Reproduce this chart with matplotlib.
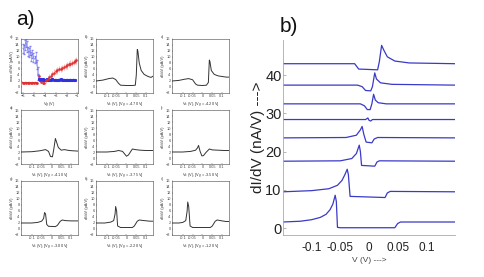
import matplotlib
matplotlib.use("Agg")
import matplotlib.pyplot as plt

plt.rcParams['font.family'] = ['Liberation Sans', 'DejaVu Sans']

# ---------------- data: panel a) sub-plot a (max dI/dV vs Vg) ----------------
blue_hi_vg = [-6.05, -5.95, -5.85, -5.75, -5.65, -5.55, -5.45, -5.35, -5.25,
              -5.15, -5.05, -4.95, -4.85, -4.75, -4.68, -4.62]
blue_hi_val = [13.0, 12.5, 14.0, 15.0, 13.5, 12.0, 11.5, 12.2, 10.2,
               11.0, 10.0, 9.2, 10.0, 7.5, 5.5, 3.2]
blue_hi_err = [1.5, 1.6, 1.8, 1.5, 1.7, 1.5, 1.4, 1.6, 1.5,
               1.4, 1.5, 1.3, 1.6, 1.4, 1.2, 0.8]
blue_lo_vg = [-4.55, -4.45, -4.35, -4.25, -4.15, -4.05, -3.95, -3.85, -3.75,
              -3.6, -3.45, -3.3, -3.15, -3.0, -2.85, -2.7, -2.55, -2.4, -2.25,
              -2.1, -1.95, -1.8, -1.65, -1.5, -1.35, -1.2]
blue_lo_val = [2.6, 2.5, 2.7, 2.4, 2.6, 2.5, 2.4, 2.6, 2.5,
               2.4, 2.5, 2.6, 2.4, 2.5, 2.4, 2.5, 2.6, 2.4, 2.5,
               2.4, 2.5, 2.4, 2.5, 2.4, 2.5, 2.4]
red_vg = [-6.05, -5.9, -5.75, -5.6, -5.45, -5.3, -5.15, -5.0, -4.85, -4.7,
          -4.5, -4.35, -4.2, -4.05, -3.9, -3.75, -3.6, -3.45, -3.3, -3.15,
          -3.0, -2.85, -2.7, -2.55, -2.4, -2.25, -2.1, -1.95, -1.8, -1.65,
          -1.5, -1.35, -1.2, -1.1]
red_val = [1.5, 1.4, 1.5, 1.4, 1.5, 1.4, 1.5, 1.4, 1.5, 1.4,
           3.6, 1.6, 1.3, 1.5, 2.2, 2.8, 3.3, 3.8, 4.5, 4.8,
           5.2, 5.6, 5.9, 6.0, 6.5, 6.7, 7.0, 7.2, 7.6, 7.8,
           8.0, 8.3, 8.6, 8.9]
red_err = [0.3, 0.3, 0.3, 0.3, 0.3, 0.3, 0.3, 0.3, 0.3, 0.3,
           0.8, 0.4, 0.4, 0.5, 0.7, 0.8, 0.9, 1.0, 1.0, 1.1,
           1.0, 1.1, 1.0, 1.1, 1.0, 1.1, 1.0, 1.1, 1.0, 1.1,
           1.0, 1.1, 1.0, 1.1]

# ---------------- data: panels b)-i) (dI/dV vs Vs) ----------------
small_letters = ["b)", "c)", "d)", "e)", "f)", "g)", "h)", "i)"]
small_vg_labels = ["-4.70", "-4.20", "-4.10", "-3.75", "-3.50", "-3.00", "-2.20", "-1.20"]
small_v = [
    [-0.155, -0.12, -0.09, -0.07, -0.055, -0.04, -0.03, 0.0, 0.03, 0.045, 0.05, 0.055, 0.058, 0.065, 0.075, 0.09, 0.11, 0.125, 0.135],
    [-0.155, -0.12, -0.09, -0.07, -0.05, -0.035, -0.025, 0.0, 0.02, 0.03, 0.035, 0.038, 0.045, 0.06, 0.08, 0.1, 0.12, 0.135],
    [-0.155, -0.1, -0.06, -0.03, -0.015, -0.005, 0.005, 0.012, 0.02, 0.025, 0.035, 0.05, 0.065, 0.09, 0.11, 0.135],
    [-0.155, -0.1, -0.06, -0.04, -0.02, -0.005, 0.0, 0.01, 0.02, 0.03, 0.045, 0.07, 0.1, 0.135],
    [-0.155, -0.1, -0.06, -0.035, -0.025, -0.02, -0.012, -0.003, 0.005, 0.02, 0.035, 0.05, 0.08, 0.11, 0.135],
    [-0.155, -0.1, -0.07, -0.05, -0.04, -0.035, -0.03, -0.024, -0.015, 0.02, 0.03, 0.045, 0.055, 0.07, 0.1, 0.135],
    [-0.155, -0.11, -0.08, -0.065, -0.058, -0.055, -0.05, -0.045, -0.03, 0.03, 0.04, 0.055, 0.065, 0.09, 0.12, 0.135],
    [-0.155, -0.12, -0.1, -0.085, -0.078, -0.075, -0.07, -0.063, -0.05, 0.04, 0.05, 0.065, 0.075, 0.1, 0.12, 0.135],
]
small_g = [
    [2.0, 2.3, 2.8, 3.0, 2.5, 1.2, 0.6, 0.5, 0.5, 0.6, 4.0, 12.5, 12.0, 8.0, 5.5, 4.2, 3.5, 3.2, 3.6],
    [2.0, 2.2, 2.6, 2.8, 2.4, 1.0, 0.6, 0.5, 0.6, 1.5, 9.0, 8.5, 5.5, 4.2, 3.7, 3.5, 3.3, 3.3],
    [2.0, 2.1, 2.4, 2.8, 2.2, 0.5, 0.4, 3.0, 6.5, 5.5, 3.5, 2.6, 2.8, 2.5, 2.4, 2.3],
    [2.0, 2.0, 2.2, 2.5, 2.2, 1.0, 0.6, 1.0, 2.0, 3.0, 2.8, 2.6, 2.5, 2.5],
    [2.0, 2.0, 2.2, 2.6, 3.4, 4.2, 2.2, 0.7, 0.8, 2.0, 3.0, 2.7, 2.6, 2.5, 2.5],
    [2.0, 2.0, 2.2, 2.6, 3.5, 5.5, 5.0, 1.5, 0.9, 0.8, 1.2, 2.6, 3.0, 2.8, 2.7, 2.7],
    [2.0, 2.0, 2.3, 2.8, 5.0, 7.5, 6.0, 1.0, 0.5, 0.5, 1.0, 2.6, 3.0, 2.8, 2.6, 2.6],
    [2.0, 2.0, 2.2, 2.8, 6.0, 9.0, 7.5, 1.0, 0.5, 0.5, 1.0, 2.6, 3.0, 2.7, 2.5, 2.5],
]

# ---------------- data: panel b) (offset dI/dV curves) ----------------
b_v = [
    [-0.15, -0.12, -0.1, -0.085, -0.075, -0.068, -0.063, -0.059, -0.057, -0.055, -0.05, 0.045, 0.05, 0.055, 0.15],
    [-0.15, -0.1, -0.07, -0.055, -0.047, -0.042, -0.038, -0.036, -0.033, 0.028, 0.032, 0.037, 0.15],
    [-0.15, -0.05, -0.03, -0.022, -0.017, -0.015, -0.013, 0.01, 0.014, 0.018, 0.15],
    [-0.15, -0.04, -0.022, -0.015, -0.012, -0.009, -0.005, 0.005, 0.009, 0.015, 0.15],
    [-0.15, -0.006, -0.002, 0.0, 0.003, 0.006, 0.15],
    [-0.15, -0.015, -0.008, -0.003, 0.002, 0.005, 0.008, 0.011, 0.016, 0.03, 0.15],
    [-0.15, -0.02, -0.012, -0.006, 0.003, 0.006, 0.01, 0.013, 0.02, 0.04, 0.15],
    [-0.15, -0.025, -0.018, 0.015, 0.018, 0.022, 0.026, 0.032, 0.045, 0.07, 0.15],
]
b_g = [
    [1.6, 1.8, 2.2, 2.8, 3.6, 4.8, 6.3, 8.6, 7.0, 0.2, 0.1, 0.1, 1.2, 1.6, 1.6],
    [9.5, 9.8, 10.3, 11.2, 12.5, 14.0, 15.4, 14.0, 8.3, 8.0, 9.2, 9.6, 9.5],
    [17.5, 17.6, 18.2, 19.5, 21.7, 20.0, 16.4, 16.2, 17.3, 17.6, 17.5],
    [23.6, 23.7, 24.3, 25.7, 26.6, 24.5, 22.5, 22.3, 23.3, 23.7, 23.6],
    [28.4, 28.4, 28.8, 28.2, 28.0, 28.4, 28.4],
    [32.5, 32.5, 32.0, 31.0, 31.0, 32.5, 35.0, 33.5, 32.8, 32.5, 32.5],
    [37.4, 37.4, 37.0, 36.0, 35.9, 37.0, 40.6, 39.0, 38.0, 37.6, 37.4],
    [43.0, 43.0, 41.6, 41.4, 43.5, 47.8, 46.5, 44.8, 43.7, 43.2, 43.0],
]
b_yticks = [0, 10, 20, 30, 40]
b_xticks = [-0.1, -0.05, 0, 0.05, 0.1]
b_xticklabels = ["-0.1", "-0.05", "0", "0.05", "0.1"]
s_xticks = [-0.1, -0.05, 0, 0.05, 0.1]
s_xticklabels = ["-0.1", "-0.05", "0", "0.05", "0.1"]
s_yticks = [-2, 0, 2, 4, 6, 8, 10, 12, 14, 16]
a_xticks = [-6, -5, -4, -3, -2, -1]

W, H = 485, 277
fig = plt.figure(figsize=(W / 100, H / 100), dpi=100)
fig.patch.set_facecolor("white")


def px_axes(x0, y0, x1, y1):
    return fig.add_axes([x0 / W, 1 - y1 / H, (x1 - x0) / W, (y1 - y0) / H])


fig.text(16 / W, 1 - 25 / H, "a)", fontsize=15, color="#111111", va="baseline")
fig.text(280 / W, 1 - 32 / H, "b)", fontsize=15, color="#111111", va="baseline")

cols = [(21, 78), (96, 153), (172, 229)]
rows = [(39, 93), (110, 164), (181, 235)]
tfs = 2.8


def style_small(ax):
    for s in ax.spines.values():
        s.set_linewidth(0.4)
        s.set_color("#444444")
    ax.tick_params(labelsize=tfs, length=1, width=0.3, pad=1, colors="#444444", direction="in")


# subplot a
ax = px_axes(cols[0][0], rows[0][0], cols[0][1], rows[0][1])
ax.errorbar(red_vg, red_val, yerr=red_err, fmt="s", ms=0.8, color="#e03030", ecolor="#f08080",
            elinewidth=0.4, lw=0, capsize=0)
ax.plot(red_vg[:10], red_val[:10], color="#e03030", lw=1.0)
ax.errorbar(blue_hi_vg, blue_hi_val, yerr=blue_hi_err, fmt="-", ms=0.8, color="#6060e0",
            ecolor="#8080f0", elinewidth=0.4, lw=0.3, capsize=0.5)
ax.plot(blue_lo_vg, blue_lo_val, "s", ms=1.2, color="#3030e0")
ax.plot(blue_lo_vg, blue_lo_val, "-", lw=1.0, color="#3030e0")
ax.set_xlim(-6.2, -0.95)
ax.set_ylim(-2, 16)
ax.set_xticks(a_xticks)
ax.set_yticks(s_yticks)
style_small(ax)
ax.set_xlabel("V$_g$ (V)", fontsize=tfs, labelpad=1, color="#333333")
ax.set_ylabel("max dI/dV (pA/V)", fontsize=tfs, labelpad=1, color="#333333")
ax.text(-0.2, 1.02, "a)", transform=ax.transAxes, fontsize=tfs, color="#444444")

positions = [(0, 1), (0, 2), (1, 0), (1, 1), (1, 2), (2, 0), (2, 1), (2, 2)]
for k, (r, c) in enumerate(positions):
    ax = px_axes(cols[c][0], rows[r][0], cols[c][1], rows[r][1])
    ax.plot(small_v[k], small_g[k], color="#333333", lw=0.7)
    ax.set_xlim(-0.155, 0.135)
    ax.set_ylim(-2, 16)
    ax.set_xticks(s_xticks)
    ax.set_xticklabels(s_xticklabels)
    ax.set_yticks(s_yticks)
    style_small(ax)
    ax.set_xlabel("V$_s$ (V), [V$_g$ = " + small_vg_labels[k] + " V]", fontsize=tfs, labelpad=1,
                  color="#333333")
    ax.set_ylabel("dI/dV (pA/V)", fontsize=tfs, labelpad=1, color="#333333")
    ax.text(-0.2, 1.02, small_letters[k], transform=ax.transAxes, fontsize=tfs, color="#444444")

# panel b)
axb = px_axes(283, 40, 455, 235)
for vv, gg in zip(b_v, b_g):
    axb.plot(vv, gg, color="#3a3ac8", lw=0.9)
axb.set_xlim(-0.15, 0.15)
axb.set_ylim(-1.8, 49.2)
axb.set_yticks(b_yticks)
axb.set_xticks(b_xticks)
axb.set_xticklabels(b_xticklabels)
axb.spines["top"].set_visible(False)
axb.spines["right"].set_visible(False)
for s in ("left", "bottom"):
    axb.spines[s].set_color("#aaaaaa")
    axb.spines[s].set_linewidth(0.6)
axb.tick_params(axis="y", labelsize=10.5, length=2, width=0.5, colors="#999999", labelcolor="#222222",
                direction="in", pad=1)
axb.tick_params(axis="x", labelsize=8.5, length=0, colors="#999999", labelcolor="#222222", pad=5)
axb.set_ylabel("dI/dV (nA/V) --->", fontsize=11, color="#222222", labelpad=0)
axb.set_xlabel("V (V) --->", fontsize=6, color="#444444", labelpad=2)

fig.savefig("out.png", dpi=100, facecolor="white")
